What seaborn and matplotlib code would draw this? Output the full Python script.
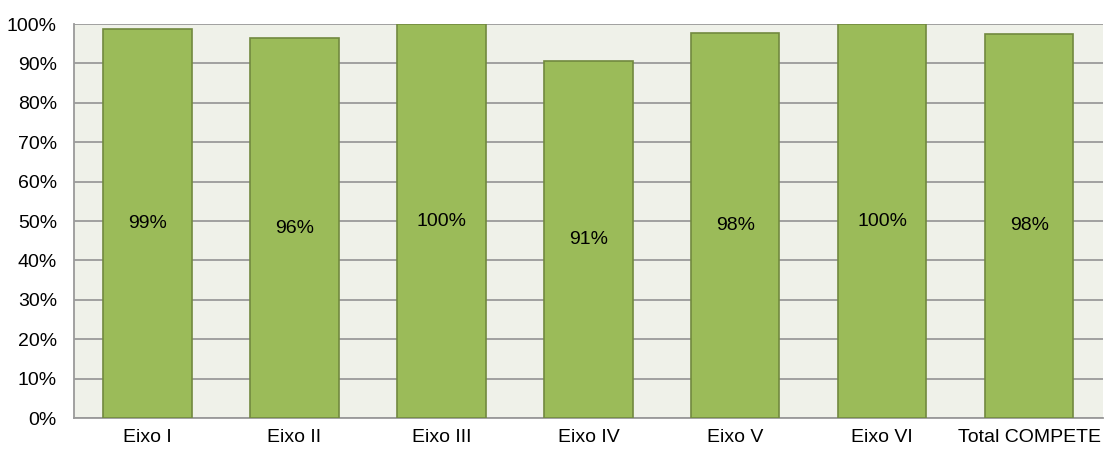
import matplotlib
matplotlib.use("Agg")
import matplotlib.pyplot as plt
import seaborn as sns
import pandas as pd
from matplotlib.ticker import FuncFormatter, MultipleLocator

categories = ["Eixo I", "Eixo II", "Eixo III", "Eixo IV", "Eixo V", "Eixo VI", "Total COMPETE"]
values = [98.7, 96.4, 100.0, 90.6, 97.7, 100.0, 97.5]

df = pd.DataFrame({"eixo": categories, "taxa": values})

sns.set_theme(style="white")
plt.rcParams["font.family"] = ["Liberation Sans", "DejaVu Sans"]

fig = plt.figure(figsize=(11.05, 4.49), dpi=100)
ax = fig.add_axes([0.067, 0.069, 0.931, 0.8775])
ax.set_facecolor("#EFF1E9")

sns.barplot(data=df, x="eixo", y="taxa", ax=ax, color="#9BBB59",
            saturation=1, width=0.6, edgecolor="#71893F", linewidth=1.2, zorder=3)

ax.set_ylim(0, 100)
ax.set_xlim(-0.5, len(categories) - 0.5)
ax.yaxis.set_major_locator(MultipleLocator(10))
ax.yaxis.set_major_formatter(FuncFormatter(lambda v, p: f"{v:.0f}%"))
ax.grid(axis="y", color="#9A9A9A", linewidth=1.3, zorder=0)
ax.set_axisbelow(True)

for i, v in enumerate(values):
    ax.text(i, v / 2, f"{v:.0f}%", ha="center", va="center", fontsize=14,
            color="black", zorder=4)

ax.set_xlabel("")
ax.set_ylabel("")
ax.set_xticks([i + 0.5 for i in range(-1, len(categories))], minor=True)
ax.tick_params(axis="x", which="major", length=0, labelsize=14, pad=8, colors="black")
ax.tick_params(axis="x", which="minor", length=4, width=1, color="#9A9A9A", direction="out")
ax.tick_params(axis="y", length=4.3, width=1, color="#9A9A9A", direction="out",
               labelsize=14, pad=8, labelcolor="black")

for side in ["top", "right"]:
    ax.spines[side].set_visible(False)
for side in ["left", "bottom"]:
    ax.spines[side].set_color("#9A9A9A")
    ax.spines[side].set_linewidth(1.3)

fig.savefig("out.png", dpi=100, facecolor="white")
